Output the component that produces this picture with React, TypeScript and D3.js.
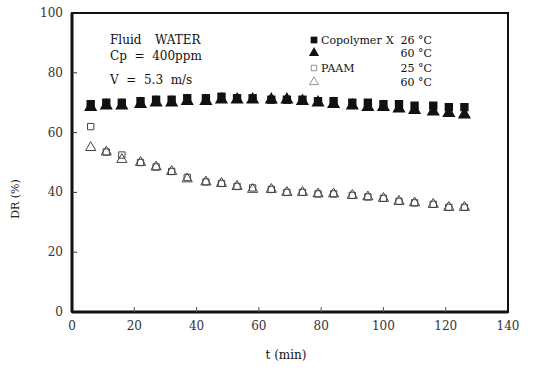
import { useEffect, useRef } from 'react';
import * as d3 from 'd3';

// sampling times (min)
const times = [6, 11, 16, 22, 27, 32, 37, 43, 48, 53, 58, 64, 69, 74, 79, 84, 90, 95, 100, 105, 110, 116, 121, 126];

// Copolymer X
const copo26 = [69.5, 70, 70, 70.5, 71, 71, 71.5, 71.5, 72, 71.5, 71.5, 71, 71, 71, 70.5, 70.5, 70, 70, 69.5, 69.5, 69, 69, 68.5, 68.5];
const copo60 = [68.5, 69, 69, 69.5, 70, 70, 70.5, 70.5, 71, 71, 71, 71, 71, 70.5, 70, 69.5, 69, 68.5, 68.5, 68, 67.5, 67, 66.5, 66];

// PAAM
const paam25 = [62, 53.5, 52.5, 50, 48.5, 47, 45, 43.5, 43, 42, 41.5, 41, 40, 40, 39.5, 39.5, 39, 38.5, 38, 37, 36.5, 36, 35, 35];
const paam60 = [55, 53.5, 51, 50, 48.5, 47, 44.5, 43.5, 43, 42, 41, 41, 40, 40, 39.5, 39.5, 39, 38.5, 38, 37, 36.5, 36, 35, 35];

const xTicks = [0, 20, 40, 60, 80, 100, 120, 140];
const yTicks = [0, 20, 40, 60, 80, 100];

export default function App() {
    const svgRef = useRef<SVGSVGElement>(null);

    useEffect(() => {
        if (!svgRef.current) return;
        const svg = d3.select(svgRef.current);
        svg.selectAll('*').remove();

        const font = '"DejaVu Serif", "Liberation Serif", serif';
        const left = 72, right = 508, top = 13, bottom = 312;

        const x = d3.scaleLinear().domain([0, 140]).range([left, right]);
        const y = d3.scaleLinear().domain([0, 100]).range([bottom, top]);

        // frame
        svg.append('rect')
            .attr('x', left).attr('y', top)
            .attr('width', right - left).attr('height', bottom - top)
            .attr('fill', 'none').attr('stroke', '#111').attr('stroke-width', 2);
        svg.append('line').attr('x1', left).attr('x2', left).attr('y1', top).attr('y2', bottom)
            .attr('stroke', '#111').attr('stroke-width', 3);
        svg.append('line').attr('x1', left).attr('x2', right).attr('y1', bottom).attr('y2', bottom)
            .attr('stroke', '#111').attr('stroke-width', 3);

        // inner ticks
        svg.append('g').selectAll('line').data(yTicks.slice(1, -1)).enter().append('line')
            .attr('x1', left).attr('x2', left + 5)
            .attr('y1', d => y(d)).attr('y2', d => y(d))
            .attr('stroke', '#333').attr('stroke-width', 1);
        svg.append('g').selectAll('line').data(xTicks.slice(1, -1)).enter().append('line')
            .attr('x1', d => x(d)).attr('x2', d => x(d))
            .attr('y1', bottom).attr('y2', bottom - 5)
            .attr('stroke', '#555').attr('stroke-width', 1);

        // tick labels
        svg.append('g').selectAll('text').data(yTicks).enter().append('text')
            .attr('x', left - 9).attr('y', d => y(d) + 4)
            .attr('text-anchor', 'end')
            .attr('font-family', font).attr('font-size', 12).attr('fill', '#333')
            .text(d => d);
        svg.append('g').selectAll('text').data(xTicks).enter().append('text')
            .attr('x', d => x(d)).attr('y', bottom + 18)
            .attr('text-anchor', 'middle')
            .attr('font-family', font).attr('font-size', 12).attr('fill', '#333')
            .text(d => d);

        // axis titles
        svg.append('text')
            .attr('x', 286).attr('y', 359)
            .attr('text-anchor', 'middle')
            .attr('font-family', font).attr('font-size', 12).attr('fill', '#111')
            .text('t (min)');
        svg.append('text')
            .attr('transform', 'translate(19,199) rotate(-90)')
            .attr('text-anchor', 'middle')
            .attr('font-family', font).attr('font-size', 11).attr('fill', '#222')
            .text('DR (%)');

        const square = d3.symbol().type(d3.symbolSquare);
        const triangle = d3.symbol().type(d3.symbolTriangle);

        const series = [
            { values: copo60, sym: triangle, size: 75, fill: '#111', stroke: 'none' },
            { values: copo26, sym: square, size: 70, fill: '#111', stroke: 'none' },
            { values: paam60, sym: triangle, size: 45, fill: 'none', stroke: '#444' },
            { values: paam25, sym: square, size: 40, fill: 'none', stroke: '#444' },
        ];

        series.forEach(s => {
            svg.append('g').selectAll('path').data(s.values).enter().append('path')
                .attr('d', s.sym.size(s.size)())
                .attr('transform', (d, i) => `translate(${x(times[i])},${y(d)})`)
                .attr('fill', s.fill)
                .attr('stroke', s.stroke)
                .attr('stroke-width', 1);
        });

        // annotation text
        const note = svg.append('g').attr('font-family', font).attr('font-size', 12).attr('fill', '#111');
        note.append('text').attr('x', 110).attr('y', 44).text('Fluid');
        note.append('text').attr('x', 155).attr('y', 44).text('WATER');
        note.append('text').attr('x', 110).attr('y', 60).attr('xml:space', 'preserve').text('Cp  =  400ppm');
        note.append('text').attr('x', 110).attr('y', 84).attr('xml:space', 'preserve').text('V  =  5.3  m/s');

        // legend
        const lg = svg.append('g').attr('font-family', font).attr('font-size', 11).attr('fill', '#111');
        const lx = 314, rx = 432;
        const rows = [
            { yy: 44, sym: square, size: 45, fill: '#111', stroke: 'none', label: 'Copolymer', temp: '26 °C' },
            { yy: 57, sym: triangle, size: 45, fill: '#111', stroke: 'none', label: '', temp: '60 °C' },
            { yy: 72, sym: square, size: 30, fill: 'none', stroke: '#777', label: 'PAAM', temp: '25 °C' },
            { yy: 86, sym: triangle, size: 35, fill: 'none', stroke: '#777', label: '', temp: '60 °C' },
        ];
        rows.forEach(r => {
            lg.append('path')
                .attr('d', r.sym.size(r.size)())
                .attr('transform', `translate(${lx},${r.yy - 4})`)
                .attr('fill', r.fill).attr('stroke', r.stroke).attr('stroke-width', 0.8);
            if (r.label) lg.append('text').attr('x', lx + 7).attr('y', r.yy).text(r.label);
            lg.append('text').attr('x', rx).attr('y', r.yy).attr('text-anchor', 'end').text(r.temp);
        });
        lg.append('text').attr('x', 386).attr('y', 44).text('X');
    }, []);

    return (
        <svg
            ref={svgRef}
            width={546}
            height={371}
            style={{ position: 'absolute', left: 0, top: 0, background: '#fff' }}
        />
    );
}
